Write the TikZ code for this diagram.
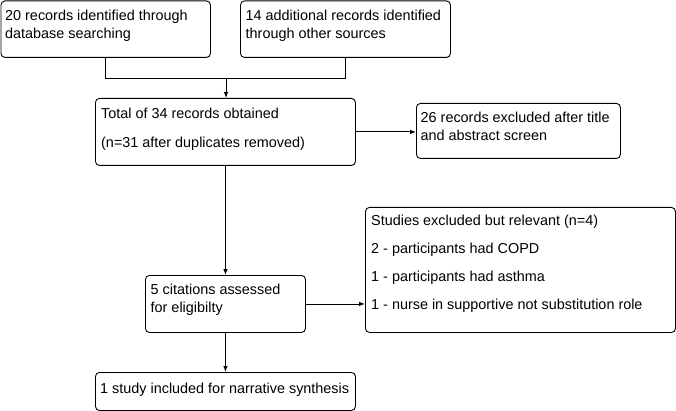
\documentclass[tikz,border=0pt]{standalone}
\usepackage{fontspec}
\setmainfont{Liberation Sans}
\usetikzlibrary{arrows.meta}
\tikzset{
  box/.style={draw, line width=0.9pt, rounded corners=4pt, inner sep=0pt, anchor=north west},
  txt/.style={anchor=north west, inner sep=0pt, align=left, font=\fontsize{14.4}{18}\selectfont},
  conn/.style={line width=0.9pt},
  arr/.style={line width=0.9pt, -{Latex[length=6pt,width=4.5pt]}}
}
\begin{document}
\begin{tikzpicture}[x=1pt,y=-1pt]
\useasboundingbox (0,0) rectangle (676,411);
% boxes
\node[box, minimum width=209.5pt, minimum height=56.5pt] (b1) at (0.5,0.5) {};
\node[box, minimum width=210pt, minimum height=56.5pt] (b2) at (240,0.5) {};
\node[box, minimum width=260pt, minimum height=67pt] (b3) at (95,98) {};
\node[box, minimum width=204pt, minimum height=55pt] (b4) at (416,103) {};
\node[box, minimum width=310pt, minimum height=125pt] (b5) at (365,207) {};
\node[box, minimum width=160pt, minimum height=57pt] (b6) at (145,275) {};
\node[box, minimum width=260pt, minimum height=38pt] (b7) at (95,372) {};
% texts
\node[txt, xshift=4.5pt, yshift=-9.5pt] (t1) at (b1.north west) {20 records identified through\\database searching};
\node[txt, xshift=5.5pt, yshift=-9.5pt] (t2) at (b2.north west) {14 additional records identified\\through other sources};
\node[txt, xshift=6pt, yshift=-10pt] (t3) at (b3.north west) {Total of 34 records obtained\\[11pt](n=31 after duplicates removed)};
\node[txt, xshift=4.5pt, yshift=-9pt] (t4) at (b4.north west) {26 records excluded after title\\and abstract screen};
\node[txt, xshift=6pt, yshift=-8pt] (t5) at (b5.north west) {Studies excluded but relevant (n=4)\\[10pt]2 - participants had COPD\\[10pt]1 - participants had asthma\\[10pt]1 - nurse in supportive not substitution role};
\node[txt, xshift=5.5pt, yshift=-9pt] (t6) at (b6.north west) {5 citations assessed\\for eligibilty};
\node[txt, xshift=5pt, yshift=-11pt] (t7) at (b7.north west) {1 study included for narrative synthesis};
% connectors
\coordinate (m) at (226,78);
\draw[conn] (b1.south) -- (b1.south |- m) -- (b2.south |- m) -- (b2.south);
\draw[arr] (m) -- (m |- b3.north);
\draw[arr] (b3.east) -- (b4.west |- b3.east);
\draw[arr] (b3.south) -- (b6.north);
\draw[arr] (b6.east) -- (b5.west |- b6.east);
\draw[arr] (b6.south) -- (b7.north);
\end{tikzpicture}
\end{document}
